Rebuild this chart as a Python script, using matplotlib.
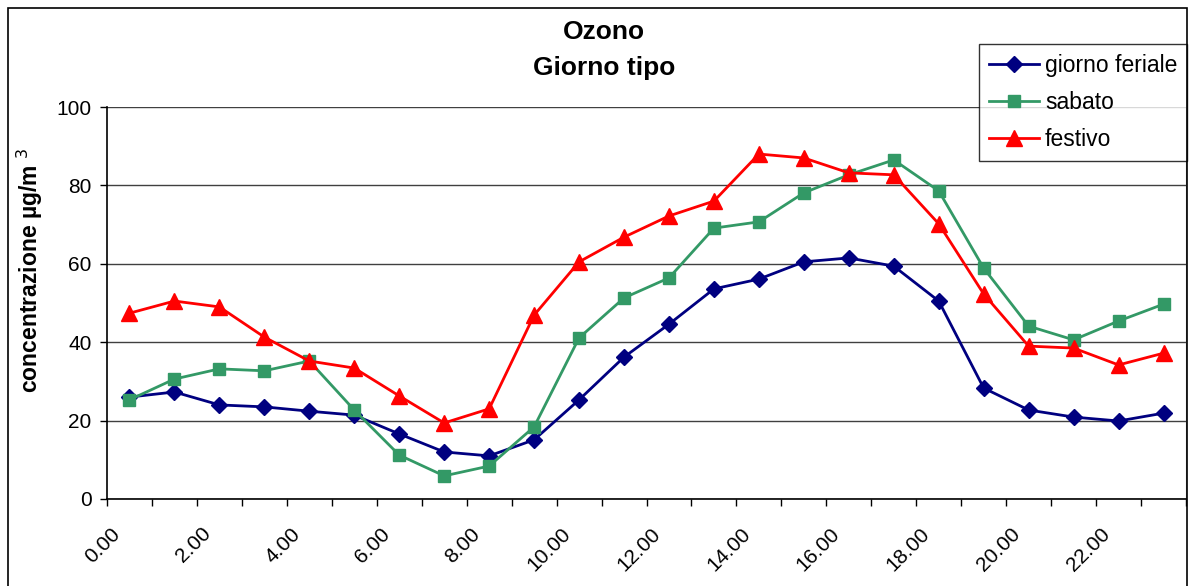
import matplotlib
matplotlib.use("Agg")
import matplotlib.pyplot as plt
from matplotlib.patches import Rectangle
from matplotlib.transforms import ScaledTranslation

plt.rcParams['font.family'] = ['Liberation Sans', 'DejaVu Sans']

hours = list(range(24))
tick_labels = ["0.00", "2.00", "4.00", "6.00", "8.00", "10.00", "12.00",
               "14.00", "16.00", "18.00", "20.00", "22.00"]

feriale = [26.0, 27.3, 24.0, 23.5, 22.4, 21.4, 16.6, 12.0, 11.0, 15.1, 25.3, 36.2,
           44.6, 53.6, 56.1, 60.5, 61.5, 59.4, 50.5, 28.3, 22.7, 20.9, 19.9, 21.9]
sabato = [25.3, 30.6, 33.2, 32.7, 35.2, 22.7, 11.2, 5.9, 8.4, 18.4, 41.1, 51.3,
          56.4, 69.1, 70.7, 78.1, 82.7, 86.5, 78.6, 58.9, 44.1, 40.6, 45.4, 49.7]
festivo = [47.4, 50.5, 49.0, 41.3, 35.2, 33.4, 26.3, 19.4, 23.0, 46.9, 60.5, 66.8,
           72.2, 76.0, 88.0, 87.0, 83.2, 82.7, 70.2, 52.3, 39.0, 38.5, 34.2, 37.2]

W, H = 1201, 586
fig = plt.figure(figsize=(W / 100, H / 100), dpi=100)
ax = fig.add_axes([107 / W, 1 - 499 / H, (1186 - 107) / W, (499 - 107) / H])

x = [h + 0.5 for h in hours]
ax.plot(x, feriale, color='#000080', lw=2, marker='D', ms=8, label='giorno feriale', zorder=3)
ax.plot(x, sabato, color='#339966', lw=2, marker='s', ms=9, label='sabato', zorder=3)
ax.plot(x, festivo, color='#FF0000', lw=2, marker='^', ms=11, label='festivo', zorder=3)

ax.set_xlim(0, 24)
ax.set_ylim(0, 100)
ax.set_yticks([0, 20, 40, 60, 80, 100])
ax.set_xticks(range(0, 25))
ax.set_xticklabels([tick_labels[i // 2] if (i % 2 == 0 and i < 24) else "" for i in range(25)],
                   rotation=45, ha='right', rotation_mode='anchor')
ax.tick_params(axis='both', direction='out', length=5, width=1, labelsize=15, colors='black')
ax.tick_params(axis='x', pad=8)
ax.tick_params(axis='y', pad=6)
offset = ScaledTranslation(4 / 100, -7 / 100, fig.dpi_scale_trans)
for lbl in ax.get_xticklabels():
    lbl.set_transform(lbl.get_transform() + offset)

ax.yaxis.grid(True, color='#404040', lw=1)
ax.set_axisbelow(True)
ax.spines['top'].set_visible(False)
ax.spines['right'].set_color('#808080')
ax.spines['left'].set_linewidth(1.2)
ax.spines['bottom'].set_linewidth(1.2)

fig.text(604 / W, 1 - 32 / H, "Ozono", ha='center', va='center', fontsize=19, fontweight='bold')
fig.text(604 / W, 1 - 68 / H, "Giorno tipo", ha='center', va='center', fontsize=19, fontweight='bold')

fig.text(30 / W, 1 - 270 / H, r"concentrazione µg/m $^{3}$", rotation=90,
         ha='center', va='center', fontsize=16.5, fontweight='bold')

fig.add_artist(Rectangle((8 / W, -0.1), (1187 - 8) / W, 1.1 - 8 / H,
                         transform=fig.transFigure, fill=False, edgecolor='black', lw=1.2))

leg = ax.legend(loc='upper right', bbox_to_anchor=(1187 / W, 1 - 44 / H),
                bbox_transform=fig.transFigure, fontsize=16.5, frameon=True,
                fancybox=False, edgecolor='black', handlelength=2.2,
                borderpad=0.42, labelspacing=0.62, handletextpad=0.25, borderaxespad=0)
leg.get_frame().set_linewidth(1)

fig.savefig("out.png", dpi=100)
